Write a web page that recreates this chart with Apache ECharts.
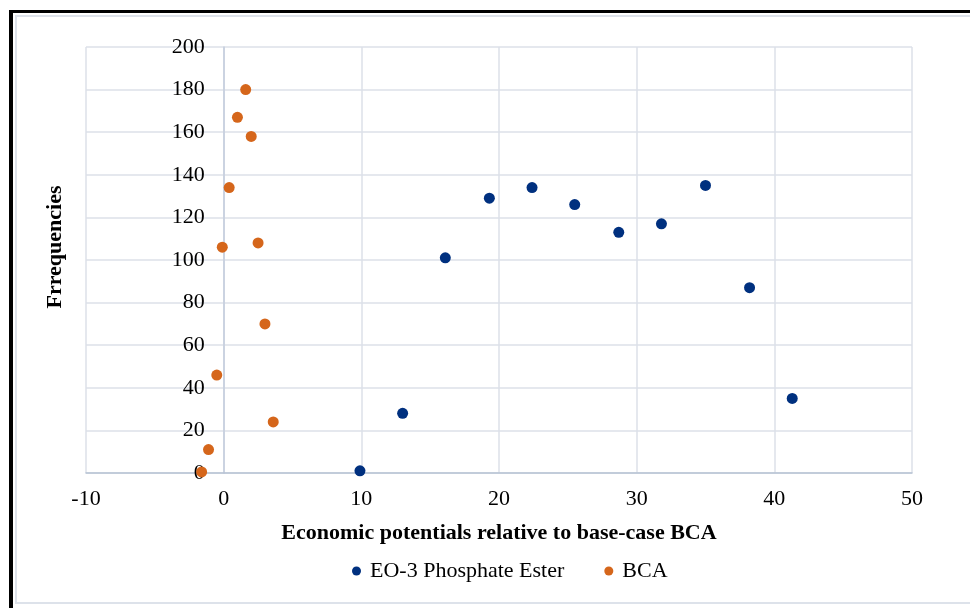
<!DOCTYPE html>
<html>
<head>
<meta charset="utf-8">
<script src="https://cdn.jsdelivr.net/npm/echarts@6/dist/echarts.min.js"></script>
<style>
  html, body { margin: 0; padding: 0; background: #fff; }
  #frame { position: absolute; left: 9px; top: 10px; width: 980px; height: 620px;
           border-left: 4px solid #000; border-top: 3px solid #000; box-sizing: border-box; }
  #inner { position: absolute; left: 15px; top: 15px; width: 980px; height: 589px;
           border: 2px solid #dde2ea; box-sizing: border-box; }
  #chart { position: absolute; left: 0; top: 0; width: 970px; height: 608px; }
</style>
</head>
<body>
<div id="frame"></div>
<div id="inner"></div>
<div id="chart"></div>
<script>
const seriesNames = ['EO-3 Phosphate Ester', 'BCA'];
const eo3X = [9.9, 13.0, 16.1, 19.3, 22.4, 25.5, 28.7, 31.8, 35.0, 38.2, 41.3];
const eo3Y = [1, 28, 101, 129, 134, 126, 113, 117, 135, 87, 35];
const bcaX = [-1.6, -1.1, 3.6, -0.5, 3.0, -0.1, 2.5, 0.4, 2.0, 1.0, 1.6];
const bcaY = [0.5, 11, 24, 46, 70, 106, 108, 134, 158, 167, 180];
const xTitle = 'Economic potentials relative to base-case BCA';
const yTitle = 'Frrequencies';

const font = '"Liberation Serif", "Times New Roman", serif';
const gridLeft = 86, gridRight = 58;
const xMin = -10, xMax = 50;
const plotW = 970 - gridLeft - gridRight;
// y axis crosses at x = 0
const yAxisOffset = -plotW * (0 - xMin) / (xMax - xMin);

const chart = echarts.init(document.getElementById('chart'));
chart.setOption({
  animation: false,
  textStyle: { fontFamily: font },
  grid: { left: gridLeft, right: gridRight, top: 47, bottom: 135, containLabel: false },
  xAxis: {
    type: 'value', min: xMin, max: xMax, interval: 10,
    axisLine: { show: true, onZero: false, lineStyle: { color: '#b7c2d4', width: 1.5 } },
    axisTick: { show: false },
    splitLine: { show: true, lineStyle: { color: '#dde1e8', width: 1.5 } },
    axisLabel: { color: '#000', fontSize: 22, fontFamily: font, margin: 15 },
    name: xTitle, nameLocation: 'middle', nameGap: 49,
    nameTextStyle: { color: '#000', fontSize: 22, fontWeight: 'bold', fontFamily: font }
  },
  yAxis: {
    type: 'value', min: 0, max: 200, interval: 20,
    offset: yAxisOffset,
    axisLine: { show: true, onZero: false, lineStyle: { color: '#c3cddc', width: 1.5 } },
    axisTick: { show: false },
    splitLine: { show: true, lineStyle: { color: '#dde1e8', width: 1.5 } },
    axisLabel: { color: '#000', fontSize: 22, fontFamily: font, margin: 19 }
  },
  legend: {
    bottom: 21, left: 347, itemGap: 40, itemWidth: 9, itemHeight: 9,
    textStyle: { color: '#000', fontSize: 22, fontFamily: font, padding: [0, 0, 0, 4] },
    data: seriesNames.map(n => ({ name: n, icon: 'circle' }))
  },
  graphic: [{
    type: 'text',
    rotation: Math.PI / 2,
    x: 55, y: 247,
    style: { text: yTitle, fill: '#000', font: 'bold 22px ' + font, textAlign: 'center', textVerticalAlign: 'middle' }
  }],
  series: [
    { name: seriesNames[0], type: 'scatter', symbolSize: 11,
      itemStyle: { color: '#00307f', opacity: 1 },
      data: eo3X.map((x, i) => [x, eo3Y[i]]) },
    { name: seriesNames[1], type: 'scatter', symbolSize: 11,
      itemStyle: { color: '#d5661b', opacity: 1 },
      data: bcaX.map((x, i) => [x, bcaY[i]]) }
  ]
});
</script>
</body>
</html>
